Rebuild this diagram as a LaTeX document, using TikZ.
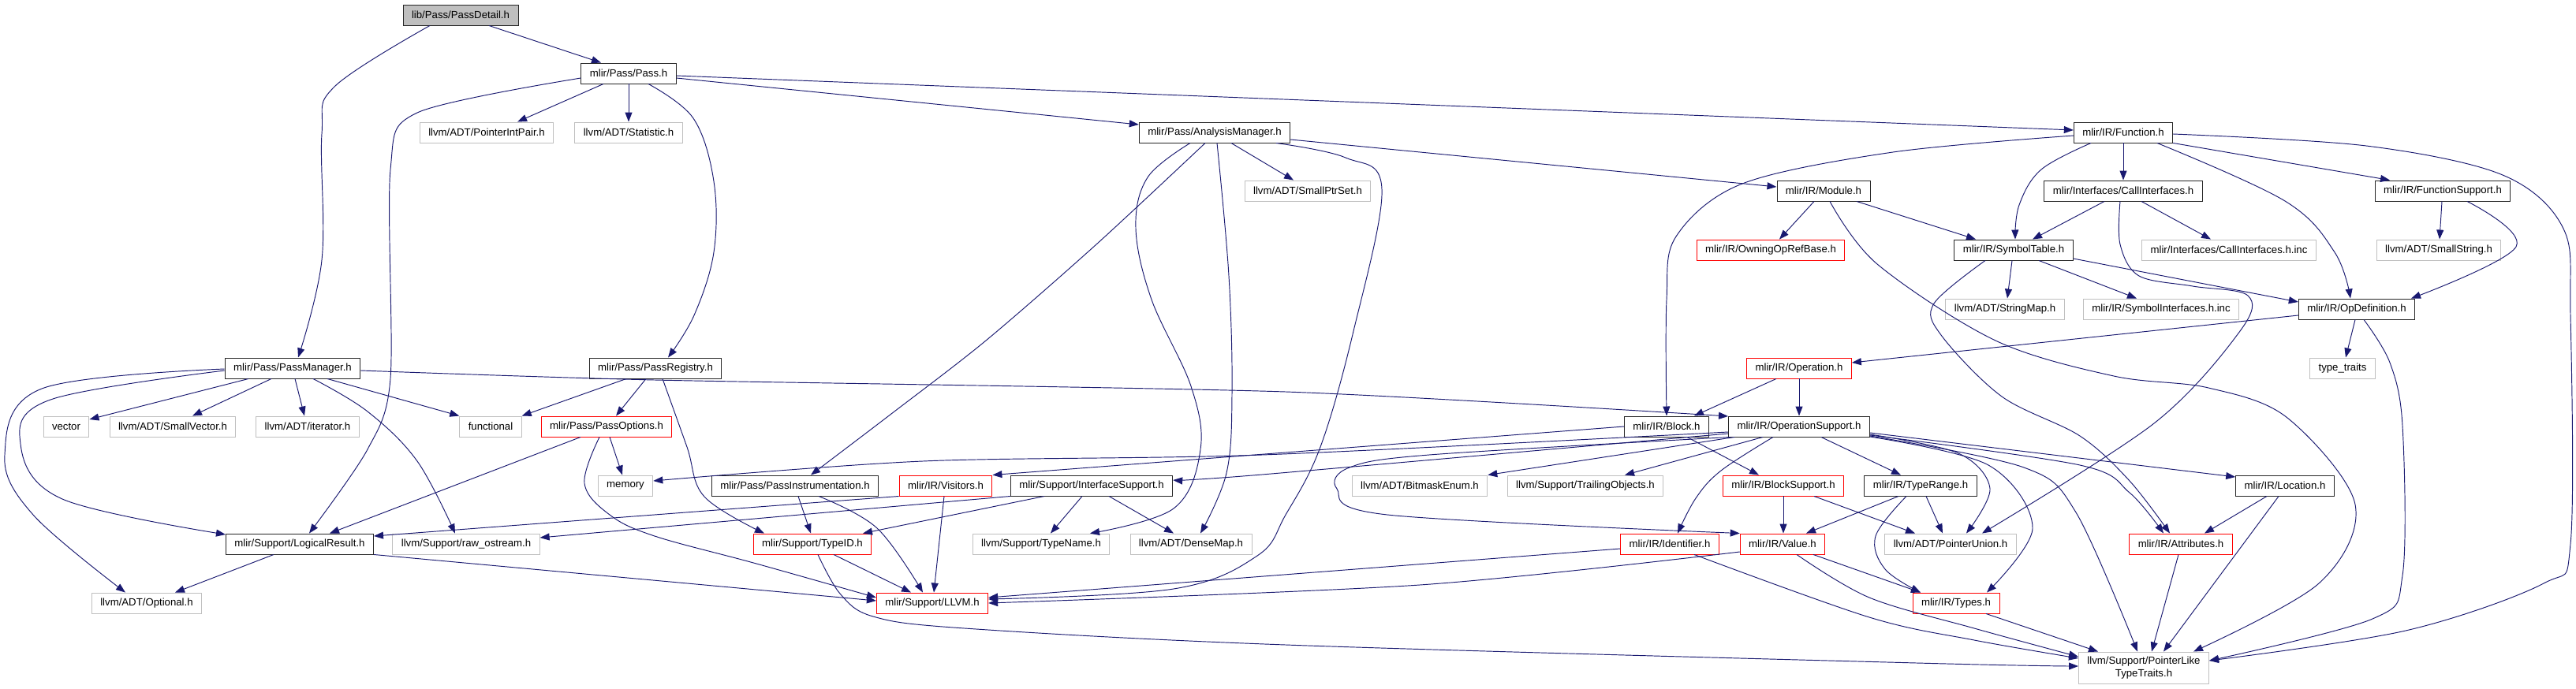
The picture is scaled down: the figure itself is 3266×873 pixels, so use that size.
\documentclass[tikz,border=0pt]{standalone}
\usepackage{fontspec}
\setmainfont{Liberation Sans}
\usetikzlibrary{arrows.meta}
\definecolor{edgec}{HTML}{191970}
\definecolor{grayb}{HTML}{BFBFBF}
\definecolor{redb}{HTML}{FF0000}
\begin{document}
\begin{tikzpicture}[x=1pt,y=-1pt,
  nbase/.style={rectangle, draw, line width=0.95pt, fill=white, font=\fontsize{13.2}{15.5}\selectfont, inner xsep=11pt, inner ysep=0pt, minimum height=26pt},
  nb/.style={nbase, draw=black!85},
  ng/.style={nbase, draw=grayb},
  nr/.style={nbase, draw=redb},
  e/.style={draw=edgec, line width=0.95pt, -{Triangle[length=12pt,width=9pt]}}]
\useasboundingbox (0,0) rectangle (3266,873);
% nodes
\node[nb, fill=grayb] (pd) at (584,19) {lib/Pass/PassDetail.h};
\node[nb] (pass) at (797,93) {mlir/Pass/Pass.h};
\node[ng] (pip) at (617,168) {llvm/ADT/PointerIntPair.h};
\node[ng] (stat) at (797,168) {llvm/ADT/Statistic.h};
\node[nb] (am) at (1540,168) {mlir/Pass/AnalysisManager.h};
\node[nb] (fn) at (2692,168) {mlir/IR/Function.h};
\node[ng] (sps) at (1658,242) {llvm/ADT/SmallPtrSet.h};
\node[nb] (mod) at (2312,242) {mlir/IR/Module.h};
\node[nb] (ci) at (2692,242) {mlir/Interfaces/CallInterfaces.h};
\node[nb] (fs) at (3097,242) {mlir/IR/FunctionSupport.h};
\node[nr] (oorb) at (2245,317) {mlir/IR/OwningOpRefBase.h};
\node[nb] (st) at (2553,317) {mlir/IR/SymbolTable.h};
\node[ng] (ciinc) at (2826,317) {mlir/Interfaces/CallInterfaces.h.inc};
\node[ng] (ss) at (3092,317) {llvm/ADT/SmallString.h};
\node[ng] (sm) at (2542,392) {llvm/ADT/StringMap.h};
\node[ng] (siinc) at (2740,392) {mlir/IR/SymbolInterfaces.h.inc};
\node[nb] (od) at (2988,392) {mlir/IR/OpDefinition.h};
\node[nb] (pm) at (371,467) {mlir/Pass/PassManager.h};
\node[nb] (pr) at (831,467) {mlir/Pass/PassRegistry.h};
\node[nr] (op) at (2281,467) {mlir/IR/Operation.h};
\node[ng] (tt) at (2970,467) {type\_traits};
\node[ng] (vec) at (84,541) {vector};
\node[ng] (sv) at (219,541) {llvm/ADT/SmallVector.h};
\node[ng] (it) at (390,541) {llvm/ADT/iterator.h};
\node[ng] (func) at (622,541) {functional};
\node[nr] (po) at (769,541) {mlir/Pass/PassOptions.h};
\node[nb] (blk) at (2113,541) {mlir/IR/Block.h};
\node[nb] (ops) at (2281,541) {mlir/IR/OperationSupport.h};
\node[ng] (mem) at (793,616) {memory};
\node[nb] (pi) at (1008,616) {mlir/Pass/PassInstrumentation.h};
\node[nr] (vis) at (1199,616) {mlir/IR/Visitors.h};
\node[nb] (is) at (1384,616) {mlir/Support/InterfaceSupport.h};
\node[ng] (bme) at (1800,616) {llvm/ADT/BitmaskEnum.h};
\node[ng] (tro) at (2010,616) {llvm/Support/TrailingObjects.h};
\node[nr] (bs) at (2261,616) {mlir/IR/BlockSupport.h};
\node[nb] (tr) at (2435,616) {mlir/IR/TypeRange.h};
\node[nb] (loc) at (2897,616) {mlir/IR/Location.h};
\node[nb] (lr) at (380,690) {mlir/Support/LogicalResult.h};
\node[ng] (ros) at (591,690) {llvm/Support/raw\_ostream.h};
\node[nr] (tid) at (1030,690) {mlir/Support/TypeID.h};
\node[ng] (tn) at (1320,690) {llvm/Support/TypeName.h};
\node[ng] (dm) at (1510,690) {llvm/ADT/DenseMap.h};
\node[nr] (idf) at (2117,690) {mlir/IR/Identifier.h};
\node[nr] (val) at (2260,690) {mlir/IR/Value.h};
\node[ng] (pu) at (2473,690) {llvm/ADT/PointerUnion.h};
\node[nr] (attr) at (2765,690) {mlir/IR/Attributes.h};
\node[ng] (opt) at (186,765) {llvm/ADT/Optional.h};
\node[nr] (llvm) at (1182,765) {mlir/Support/LLVM.h};
\node[nr] (ty) at (2480,765) {mlir/IR/Types.h};
\node[ng, align=center, minimum height=40pt, minimum width=164pt] (plt) at (2718,847) {llvm/Support/PointerLike\\TypeTraits.h};
% PassDetail
\draw[e] ([xshift=36pt]pd.south) -- ([xshift=-35pt]pass.north);
\draw[e] plot[smooth,tension=0.6] coordinates {([xshift=-39pt]pd.south) (424,110) (408,170) (408,330) ([xshift=7pt]pm.north)};
% Pass
\draw[e] ([xshift=-32pt]pass.south) -- ([xshift=39pt]pip.north);
\draw[e] (pass.south) -- (stat.north);
\draw[e] plot[smooth,tension=0.5] coordinates {([yshift=-6pt]pass.west) (529,143) (495,215) (495,480) (466,570) ([xshift=12pt]lr.north)};
\draw[e] plot[smooth,tension=0.6] coordinates {([xshift=25pt]pass.south) (879,150) (905,230) (905,320) (880,400) ([xshift=16pt]pr.north)};
\draw[e] ([yshift=-6pt]pass.east) -- ([yshift=10pt]am.west);
\draw[e] ([yshift=-3pt]pass.east) -- ([yshift=3pt]fn.west);
% AnalysisManager
\draw[e] ([xshift=21pt]am.south) -- ([xshift=-18pt]sps.north);
\draw[e] ([yshift=-9pt]am.east) -- ([yshift=5pt]mod.west);
\draw[e] plot[smooth,tension=0.5] coordinates {([xshift=-12pt]am.south) (1390,310) (1250,432) (1130,525) ([xshift=20pt]pi.north)};
\draw[e] plot[smooth,tension=0.6] coordinates {([xshift=-31pt]am.south) (1455,225) (1440,290) (1460,380) (1510,490) (1522,570) (1488,645) ([xshift=62pt]tn.north)};
\draw[e] plot[smooth,tension=0.6] coordinates {([xshift=3pt]am.south) (1558,350) (1562,500) (1555,600) ([xshift=12pt]dm.north)};
\draw[e] plot[smooth,tension=0.6] coordinates {([xshift=78pt]am.south) (1706,200) (1752,240) (1716,420) (1674,567) (1630,653) (1594,705) (1488,747) ([yshift=5pt]llvm.east)};
% Module
\draw[e] ([xshift=-12pt]mod.south) -- ([xshift=11pt]oorb.north);
\draw[e] ([xshift=42pt]mod.south) -- ([xshift=-48pt]st.north);
\draw[e] plot[smooth,tension=0.55] coordinates {([xshift=8pt]mod.south) (2380,335) (2530,432) (2680,477) (2800,492) (2900,530) (2986,640) (2940,740) ([xshift=63pt]plt.north)};
% Function
\draw[e] plot[smooth,tension=0.6] coordinates {([xshift=-41pt]fn.south) (2588,215) (2560,260) ([xshift=2pt]st.north)};
\draw[e] (fn.south) -- (ci.north);
\draw[e] plot[smooth,tension=0.6] coordinates {([xshift=43pt]fn.south) (2897,255) (2960,320) ([xshift=-8pt]od.north)};
\draw[e] (fn.south east) -- ([xshift=-67pt]fs.north);
\draw[e] plot[smooth,tension=0.55] coordinates {([yshift=-2pt]fn.east) (3000,185) (3173,222) (3250,290) (3259,400) (3259,690) (3225,740) (3050,800) ([yshift=9pt]plt.east)};
\draw[e] plot[smooth,tension=0.55] coordinates {([yshift=-4pt]fn.west) (2400,193) (2209,233) (2125,300) (2113,380) (blk.north)};
% CallInterfaces
\draw[e] ([xshift=-24pt]ci.south) -- ([xshift=24pt]st.north);
\draw[e] ([xshift=23pt]ci.south) -- ([xshift=-23pt]ciinc.north);
\draw[e] plot[smooth,tension=0.55] coordinates {([xshift=-4pt]ci.south) (2688,310) (2712,350) (2780,363) (2850,375) (2840,420) (2731,537) ([xshift=40pt]pu.north)};
% FunctionSupport
\draw[e] ([xshift=-1pt]fs.south) -- ([xshift=1pt]ss.north);
\draw[e] plot[smooth,tension=0.6] coordinates {([xshift=31pt]fs.south) (3190,313) ([xshift=69pt]od.north)};
% SymbolTable
\draw[e] ([xshift=-2pt]st.south) -- ([xshift=3pt]sm.north);
\draw[e] ([xshift=32pt]st.south) -- ([xshift=-31pt]siinc.north);
\draw[e] ([yshift=-11pt]st.east) -- ([yshift=9pt]od.west);
\draw[e] plot[smooth,tension=0.55] coordinates {([xshift=-36pt]st.south) (2452,385) (2461,425) (2538,503) (2637,553) (2700,610) ([xshift=-14pt]attr.north)};
% OpDefinition
\draw[e] ([yshift=-8pt]od.west) -- ([yshift=7pt]op.east);
\draw[e] ([xshift=-2pt]od.south) -- ([xshift=4pt]tt.north);
\draw[e] plot[smooth,tension=0.55] coordinates {([xshift=9pt]od.south) (3030,460) (3046,540) (3046,730) (3008,785) ([yshift=9pt]plt.east)};
% Operation
\draw[e] ([xshift=-29pt]op.south) -- ([xshift=35pt]blk.north);
\draw[e] (op.south) -- (ops.north);
% Block
\draw[e] ([xshift=26pt]blk.south) -- ([xshift=-31pt]bs.north);
\draw[e] (blk.west) -- (vis.north east);
% OperationSupport
\draw[e] ([xshift=8pt]ops.south west) -- (bme.north east);
\draw[e] ([xshift=-46pt]ops.south) -- ([xshift=50pt]tro.north);
\draw[e] plot[smooth,tension=0.6] coordinates {([xshift=-33pt]ops.south) (2182,597) (2150,632) ([xshift=10pt]idf.north)};
\draw[e] ([xshift=28pt]ops.south) -- ([xshift=-25pt]tr.north);
\draw[e] plot[smooth,tension=0.55] coordinates {([xshift=2pt]ops.south west) (1812,577) (1711,593) (1695,620) (1759,653) (val.north west)};
\draw[e] plot[smooth,tension=0.5] coordinates {([yshift=-7pt]ops.west) (1600,577) (1170,585) ([yshift=6pt]mem.east)};
\draw[e] plot[smooth,tension=0.5] coordinates {([yshift=-9pt]ops.west) (1600,602) ([yshift=7pt]is.east)};
\draw[e] ([yshift=-8pt]ops.east) -- ([yshift=11pt]loc.west);
\draw[e] plot[smooth,tension=0.55] coordinates {([yshift=-11pt]ops.east) (2637,590) (2700,625) ([xshift=-22pt]attr.north)};
\draw[e] plot[smooth,tension=0.55] coordinates {([yshift=-12pt]ops.east) (2566,593) (2632,650) ([xshift=-8pt]plt.north)};
\draw[e] plot[smooth,tension=0.55] coordinates {([yshift=-13pt]ops.east) (2521,590) (2577,670) ([xshift=39pt]ty.north)};
\draw[e] plot[smooth,tension=0.55] coordinates {([yshift=-10pt]ops.east) (2483,575) (2523,620) ([xshift=20pt]pu.north)};
% BlockSupport
\draw[e] (bs.south) -- ([xshift=1pt]val.north);
\draw[e] ([xshift=39pt]bs.south) -- ([xshift=-45pt]pu.north);
% TypeRange
\draw[e] ([xshift=-28pt]tr.south) -- ([xshift=30pt]val.north);
\draw[e] ([xshift=7pt]tr.south) -- ([xshift=-10pt]pu.north);
\draw[e] plot[smooth,tension=0.6] coordinates {([xshift=-18pt]tr.south) (2378,680) (2390,722) ([xshift=-45pt]ty.north)};
% Location
\draw[e] ([xshift=-23pt]loc.south) -- ([xshift=30pt]attr.north);
\draw[e] ([xshift=-8pt]loc.south) -- ([xshift=25pt]plt.north);
% Value
\draw[e] ([xshift=39pt]val.south) -- ([xshift=-45pt]ty.north);
\draw[e] plot[smooth,tension=0.55] coordinates {([xshift=18pt]val.south) (2370,758) (2503,797) ([yshift=14pt]plt.west)};
\draw[e] plot[smooth,tension=0.5] coordinates {([yshift=-10pt]val.west) (1800,742) (llvm.east)};
% Identifier
\draw[e] ([yshift=-6pt]idf.west) -- ([yshift=7pt]llvm.east);
\draw[e] plot[smooth,tension=0.55] coordinates {([xshift=31pt]idf.south) (2370,783) (2503,812) ([yshift=12pt]plt.west)};
% Types, Attributes
\draw[e] ([xshift=38pt]ty.south) -- ([xshift=-58pt]plt.north);
\draw[e] ([xshift=-3pt]attr.south) -- ([xshift=10pt]plt.north);
% PassManager
\draw[e] ([xshift=-56pt]pm.south) -- ([yshift=9pt]vec.east);
\draw[e] ([xshift=-27pt]pm.south) -- ([xshift=25pt]sv.north);
\draw[e] ([xshift=3pt]pm.south) -- ([xshift=-4pt]it.north);
\draw[e] ([xshift=44pt]pm.south) -- (func.north west);
\draw[e] plot[smooth,tension=0.6] coordinates {([xshift=26pt]pm.south) (466,522) (529,585) ([xshift=-14pt]ros.north)};
\draw[e] plot[smooth,tension=0.6] coordinates {([yshift=-3pt]pm.west) (64,507) (26,563) (79,633) ([yshift=12pt]lr.west)};
\draw[e] plot[smooth,tension=0.6] coordinates {([yshift=-1pt]pm.west) (53,493) (6,577) (42,653) ([xshift=-27pt]opt.north)};
\draw[e] plot[smooth,tension=0.4] coordinates {([yshift=-3pt]pm.east) (830,482) (1630,497) ([yshift=13pt]ops.west)};
% PassRegistry
\draw[e] ([xshift=-37pt]pr.south) -- (func.north east);
\draw[e] ([xshift=-12pt]pr.south) -- ([xshift=12pt]po.north);
\draw[e] plot[smooth,tension=0.6] coordinates {([xshift=9pt]pr.south) (871,567) (893,630) ([xshift=-61pt]tid.north)};
% PassOptions
\draw[e] ([xshift=-33pt]po.south) -- ([xshift=38pt]lr.north);
\draw[e] ([xshift=4pt]po.south) -- ([xshift=-4pt]mem.north);
\draw[e] plot[smooth,tension=0.6] coordinates {([xshift=-9pt]po.south) (741,613) (773,653) (830,680) (959,715) ([yshift=7pt]llvm.west)};
% LogicalResult
\draw[e] ([xshift=-33pt]lr.south) -- ([xshift=36pt]opt.north);
\draw[e] (lr.south east) -- ([yshift=3pt]llvm.west);
% PassInstrumentation, Visitors, InterfaceSupport, TypeID
\draw[e] ([xshift=4pt]pi.south) -- ([xshift=-2pt]tid.north);
\draw[e] plot[smooth,tension=0.6] coordinates {([xshift=30pt]pi.south) (1112,670) ([xshift=-12pt]llvm.north)};
\draw[e] ([xshift=-2pt]vis.south) -- ([xshift=2pt]llvm.north);
\draw[e] (vis.south west) -- ([yshift=10pt]lr.east);
\draw[e] ([xshift=-60pt]is.south) -- ([xshift=64pt]tid.north);
\draw[e] ([xshift=-12pt]is.south) -- ([xshift=12pt]tn.north);
\draw[e] ([xshift=22pt]is.south) -- ([xshift=-22pt]dm.north);
\draw[e] (is.south west) -- ([yshift=8pt]ros.east);
\draw[e] ([xshift=27pt]tid.south) -- ([xshift=-27pt]llvm.north);
\draw[e] plot[smooth,tension=0.55] coordinates {([xshift=7pt]tid.south) (1065,753) (1107,782) (1223,797) (1630,818) (2430,841) ([yshift=2pt]plt.west)};
\end{tikzpicture}
\end{document}
